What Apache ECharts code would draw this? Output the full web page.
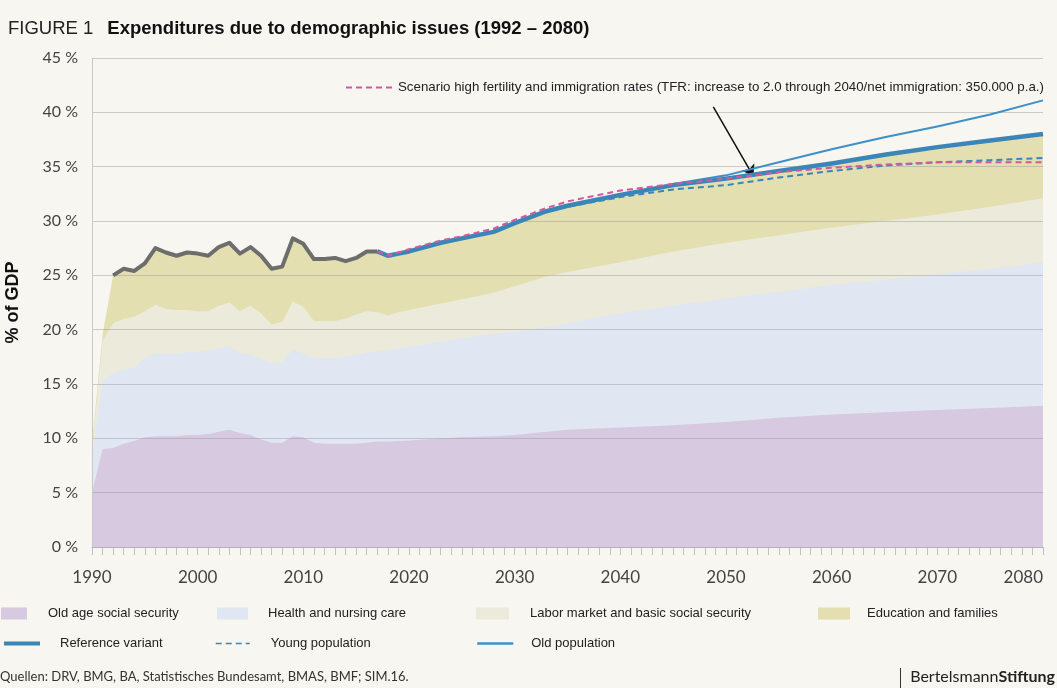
<!DOCTYPE html>
<html>
<head>
<meta charset="utf-8">
<title>Expenditures due to demographic issues</title>
<script src="https://cdn.jsdelivr.net/npm/echarts@6/dist/echarts.min.js"></script>
<style>
  html, body { margin: 0; padding: 0; background: #f7f6f0; }
  #chart { width: 1057px; height: 688px; }
</style>
</head>
<body>
<div id="chart"></div>
<script>
// years at which the area boundaries were read
const areaYears = [1990, 1991, 1992, 1993, 1994, 1995, 1996, 1997, 1998, 1999,
  2000, 2001, 2002, 2003, 2004, 2005, 2006, 2007, 2008, 2009,
  2010, 2011, 2012, 2013, 2014, 2015, 2016, 2017, 2018, 2019, 2020,
  2023, 2025, 2028, 2030, 2033, 2035, 2040, 2045, 2050, 2055, 2060, 2065, 2070, 2075, 2080]

// upper edge of each layer, % of GDP (cumulative)
const oldAgeTop = [5, 9.0, 9.1, 9.5, 9.75, 10.1, 10.2, 10.2, 10.2, 10.3,
  10.3, 10.4, 10.6, 10.8, 10.5, 10.3, 9.9, 9.6, 9.6, 10.2,
  10.1, 9.6, 9.5, 9.5, 9.5, 9.5, 9.6, 9.7, 9.7, 9.75, 9.8,
  10.0, 10.1, 10.2, 10.3, 10.6, 10.8, 11.0, 11.2, 11.5, 11.9, 12.2, 12.4, 12.6, 12.8, 13.0]
const healthTop = [8, 15.4, 16.0, 16.3, 16.5, 17.4, 17.8, 17.8, 17.8, 17.9,
  18.0, 18.1, 18.3, 18.5, 17.8, 17.7, 17.3, 16.9, 17.0, 18.2,
  17.8, 17.4, 17.4, 17.4, 17.5, 17.7, 17.9, 18.0, 18.1, 18.3, 18.4,
  18.9, 19.2, 19.6, 19.8, 20.2, 20.6, 21.5, 22.2, 22.9, 23.5, 24.1, 24.6, 25.1, 25.6, 26.2]
const laborTop = [9, 19.0, 20.6, 21.0, 21.2, 21.7, 22.3, 21.9, 21.8, 21.8,
  21.7, 21.7, 22.2, 22.5, 21.7, 22.2, 21.5, 20.5, 20.7, 22.6,
  22.1, 20.8, 20.8, 20.8, 21.0, 21.4, 21.7, 21.6, 21.3, 21.6, 21.8,
  22.4, 22.8, 23.4, 24.0, 24.9, 25.3, 26.2, 27.2, 28.0, 28.7, 29.4, 30.0, 30.6, 31.3, 32.1]
const educationTop = [9.5, 19.5, 25.0, 25.6, 25.4, 26.1, 27.5, 27.1, 26.8, 27.1,
  27.0, 26.8, 27.6, 28.0, 27.0, 27.6, 26.8, 25.6, 25.8, 28.4,
  27.9, 26.5, 26.5, 26.6, 26.3, 26.6, 27.2, 27.2, 26.8, 27.0, 27.2,
  28.0, 28.4, 29.0, 29.8, 30.9, 31.4, 32.4, 33.3, 33.9, 34.6, 35.3, 36.1, 36.8, 37.4, 38.0]

// observed total (grey line)
const histYears = [1992, 1993, 1994, 1995, 1996, 1997, 1998, 1999, 2000, 2001,
  2002, 2003, 2004, 2005, 2006, 2007, 2008, 2009, 2010, 2011,
  2012, 2013, 2014, 2015, 2016, 2017]
const histTotal = [25.0, 25.6, 25.4, 26.1, 27.5, 27.1, 26.8, 27.1, 27.0, 26.8,
  27.6, 28.0, 27.0, 27.6, 26.8, 25.6, 25.8, 28.4, 27.9, 26.5,
  26.5, 26.6, 26.3, 26.6, 27.2, 27.2]

// projections
const projYears = [2017, 2018, 2019, 2020, 2023, 2025, 2028, 2030, 2033, 2035,
  2040, 2045, 2050, 2055, 2060, 2065, 2070, 2075, 2080]
const referenceVariant = [27.2, 26.8, 27.0, 27.2, 28.0, 28.4, 29.0, 29.8, 30.9, 31.4,
  32.4, 33.3, 33.9, 34.6, 35.3, 36.1, 36.8, 37.4, 38.0]
const oldPopulation = [27.2, 26.8, 27.0, 27.2, 28.0, 28.4, 29.0, 29.8, 30.9, 31.4,
  32.4, 33.4, 34.2, 35.4, 36.6, 37.7, 38.7, 39.8, 41.1]
const youngPopulation = [27.2, 26.8, 27.0, 27.2, 28.0, 28.4, 29.0, 29.8, 30.9, 31.3,
  32.2, 32.9, 33.3, 34.0, 34.6, 35.1, 35.4, 35.6, 35.8]
const highFertility = [27.2, 26.8, 27.1, 27.4, 28.2, 28.6, 29.3, 30.1, 31.2, 31.8,
  32.8, 33.4, 33.9, 34.5, 34.9, 35.2, 35.4, 35.4, 35.4]

const SCENARIO = 'Scenario high fertility and immigration rates (TFR: increase to 2.0 through 2040/net immigration: 350.000 p.a.)'

const pairs = (xs, ys) => xs.map((x, i) => [x, ys[i]])

function areaSeries (name, xs, ys, color) {
  return {
    name: name,
    type: 'line',
    data: pairs(xs, ys),
    symbol: 'none',
    lineStyle: { width: 0 },
    itemStyle: { color: color },
    areaStyle: { color: color, opacity: 1 },
    z: 2
  }
}

function lineSeries (name, xs, ys, color, width, dashed, z) {
  return {
    name: name,
    type: 'line',
    data: pairs(xs, ys),
    symbol: 'none',
    itemStyle: { color: color },
    lineStyle: { color: color, width: width, type: dashed ? [6, 4] : 'solid', join: 'round' },
    z: z
  }
}

function legendItem (name, left, top, w, textPad, lineW, fontSize) {
  const l = {
    data: [name],
    left: left,
    top: top,
    padding: 0,
    itemWidth: w,
    itemHeight: 12,
    selectedMode: false,
    itemStyle: { borderWidth: 0 },
    textStyle: { fontSize: fontSize || 13, color: '#222', fontFamily: 'Liberation Sans', padding: [0, 0, 0, textPad] }
  }
  if (lineW) {
    // line only, hide the marker dot
    l.lineStyle = { width: lineW }
    l.itemStyle = { opacity: 0, borderWidth: 0 }
  } else {
    l.icon = 'rect'
  }
  return l
}

const chart = echarts.init(document.getElementById('chart'))

const scenarioSeries = lineSeries(SCENARIO, projYears, highFertility, '#d6589c', 2, true, 7)
scenarioSeries.markLine = {
  silent: true,
  symbol: ['none', 'arrow'],
  symbolSize: 11,
  label: { show: false },
  lineStyle: { color: '#111', width: 1.5, type: 'solid' },
  data: [[{ coord: [2048.8, 40.5] }, { coord: [2052.6, 34.1] }]]
}

chart.setOption({
  animation: false,
  backgroundColor: '#f7f6f0',
  title: {
    left: 8,
    top: 19,
    padding: 0,
    text: '{a|FIGURE 1}{b|Expenditures due to demographic issues (1992 – 2080)}',
    textStyle: {
      rich: {
        a: { fontSize: 18.5, fontFamily: 'Liberation Sans', fontWeight: 'normal', color: '#222', padding: [0, 14, 0, 0] },
        b: { fontSize: 18.5, fontFamily: 'Liberation Sans', fontWeight: 'bold', color: '#111' }
      }
    }
  },
  grid: { left: 92, right: 14, top: 58, bottom: 141, outerBoundsMode: 'none' },
  xAxis: {
    type: 'value',
    min: 1990,
    max: 2080,
    interval: 10,
    axisLine: { show: true, lineStyle: { color: '#c9c9c9' } },
    axisTick: { show: true, length: 8, lineStyle: { color: '#c0c0c0' } },
    minorTick: { show: true, splitNumber: 10, length: 8, lineStyle: { color: '#c0c0c0' } },
    splitLine: { show: false },
    axisLabel: {
      formatter: v => String(v),
      fontSize: 17,
      fontFamily: 'Lato',
      color: '#444',
      margin: 22,
      alignMaxLabel: 'right'
    }
  },
  yAxis: {
    type: 'value',
    min: 0,
    max: 45,
    interval: 5,
    z: 3,
    name: '% of GDP',
    nameLocation: 'middle',
    nameGap: 70,
    nameTextStyle: { fontSize: 18, fontWeight: 'bold', fontFamily: 'Liberation Sans', color: '#111' },
    axisLine: { show: true, lineStyle: { color: '#c9c9c9' } },
    axisTick: { show: false },
    axisLabel: { formatter: '{value} %', fontSize: 16, fontFamily: 'Lato', color: '#444', margin: 14 },
    splitLine: { lineStyle: { color: 'rgba(150,150,150,0.45)', width: 1.2 } }
  },
  legend: [
    legendItem('Old age social security', 1, 607, 26, 16),
    legendItem('Health and nursing care', 217, 607, 31, 15),
    legendItem('Labor market and basic social security', 476, 607, 33, 16),
    legendItem('Education and families', 818, 607, 32, 12),
    legendItem('Reference variant', 2, 637, 36, 15, 4),
    legendItem('Young population', 215, 637, 34, 16, 1.5),
    legendItem('Old population', 476, 637, 36, 13, 2.5),
    legendItem(SCENARIO, 345, 81, 47, 0, 2, 13.3)
  ],
  series: [
    areaSeries('Education and families', areaYears, educationTop, '#e3dfb1'),
    areaSeries('Labor market and basic social security', areaYears, laborTop, '#ebeadb'),
    areaSeries('Health and nursing care', areaYears, healthTop, '#e0e7f2'),
    areaSeries('Old age social security', areaYears, oldAgeTop, '#d7c9e0'),
    lineSeries('Observed', histYears, histTotal, '#6d6d6d', 4, false, 4),
    lineSeries('Old population', projYears, oldPopulation, '#3d91c7', 2, false, 5),
    lineSeries('Reference variant', projYears, referenceVariant, '#3a86b8', 4.5, false, 5),
    lineSeries('Young population', projYears, youngPopulation, '#3a86b8', 2, true, 6),
    scenarioSeries
  ],
  graphic: [
    {
      type: 'text',
      left: 0,
      top: 670,
      style: { text: 'Quellen: DRV, BMG, BA, Statistisches Bundesamt, BMAS, BMF; SIM.16.', fontSize: 13, fontFamily: 'Lato', fill: '#333' }
    },
    {
      type: 'rect',
      left: 900,
      top: 668,
      shape: { width: 1, height: 20 },
      style: { fill: '#333' }
    },
    {
      type: 'text',
      right: 2,
      top: 669,
      style: {
        text: '{a|Bertelsmann}{b|Stiftung}',
        rich: {
          a: { fontSize: 16, fontFamily: 'Lato', fill: '#222' },
          b: { fontSize: 16, fontFamily: 'Lato', fontWeight: 'bold', fill: '#222' }
        }
      }
    }
  ]
})
</script>
</body>
</html>
